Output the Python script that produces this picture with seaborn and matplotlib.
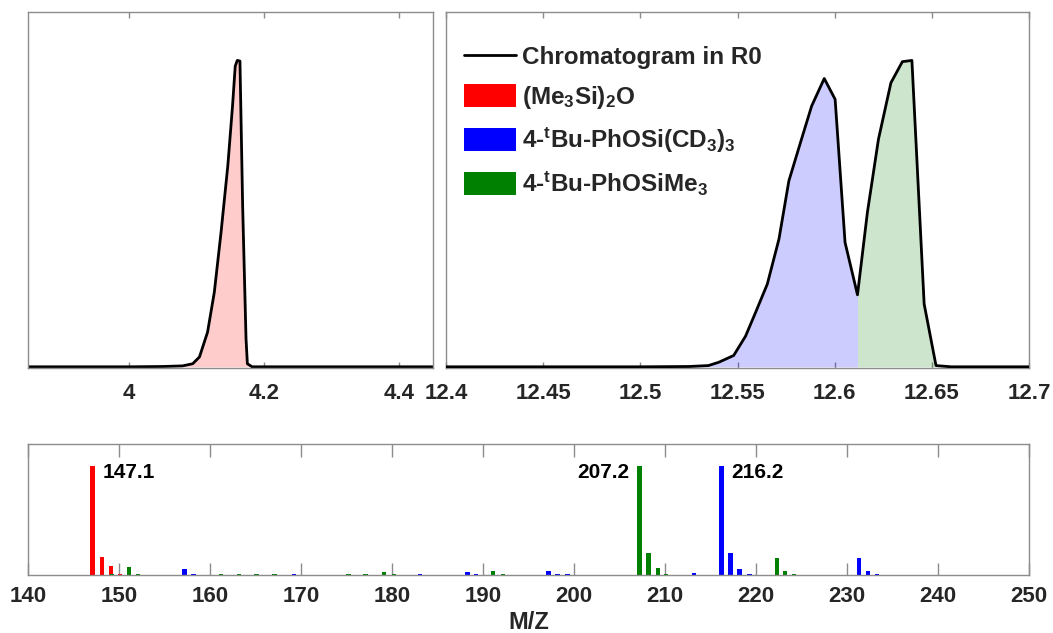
import numpy as np
import matplotlib
matplotlib.use("Agg")
import matplotlib.pyplot as plt
import seaborn as sns
from matplotlib.lines import Line2D
from matplotlib.patches import Patch

# ---- chromatogram in region R0 (retention time in min, normalised signal) ----
rt_early = [3.85, 4.00, 4.05, 4.079, 4.094, 4.104, 4.116, 4.126, 4.136, 4.146,
            4.153, 4.157, 4.160, 4.164, 4.168, 4.173, 4.175, 4.182, 4.20, 4.45]
sig_early = [0, 0, 0.001, 0.003, 0.010, 0.032, 0.113, 0.243, 0.439, 0.656,
             0.851, 0.981, 1.000, 0.998, 0.525, 0.091, 0.010, 0, 0, 0]

rt_late = [12.40, 12.50, 12.525, 12.535, 12.5404, 12.548, 12.5541, 12.5593, 12.5653,
           12.5713, 12.5764, 12.5816, 12.5881, 12.5946, 12.6002, 12.6053, 12.6117,
           12.6168, 12.6225, 12.6289, 12.6348, 12.6397, 12.646, 12.6521, 12.66, 12.70]
sig_late = [0, 0, 0.001, 0.004, 0.015, 0.037, 0.100, 0.178, 0.270,
            0.417, 0.607, 0.716, 0.851, 0.941, 0.873, 0.406, 0.235,
            0.504, 0.743, 0.927, 0.996, 1.000, 0.205, 0.004, 0, 0]
rt_split = 12.6117   # boundary between the two co-eluting compounds

# ---- mass spectra (m/z, relative intensity) ----
mz_hmdso = [147.1, 148.1, 149.1, 150.1]
int_hmdso = [1.0, 0.168, 0.083, 0.010]

mz_tms = [145.2, 149.2, 151.1, 152.1, 161.2, 163.2, 164.1, 165.1, 166.2, 167.1,
          168.1, 175.2, 177.1, 179.1, 180.2, 191.1, 192.2, 207.2, 208.2, 209.2,
          210.1, 222.3, 223.2, 224.2]
int_tms = [0.004, 0.010, 0.070, 0.012, 0.005, 0.010, 0.004, 0.005, 0.004, 0.005,
           0.004, 0.005, 0.012, 0.030, 0.006, 0.040, 0.010, 1.0, 0.200, 0.060,
           0.008, 0.160, 0.040, 0.010]

mz_d9 = [140.2, 141.2, 142.1, 153.3, 154.2, 155.2, 157.2, 158.2, 159.2, 169.2,
         171.3, 173.3, 176.2, 178.1, 181.1, 183.1, 184.1, 185.2, 188.3, 189.2,
         197.2, 198.2, 199.3, 200.2, 201.3, 202.4, 211.4, 213.2, 214.2, 216.2,
         217.2, 218.2, 219.3, 228.5, 231.3, 232.3, 233.3, 234.2]
int_d9 = [0.004, 0.004, 0.004, 0.004, 0.004, 0.004, 0.052, 0.008, 0.004, 0.008,
          0.004, 0.004, 0.004, 0.004, 0.004, 0.006, 0.004, 0.004, 0.027, 0.005,
          0.037, 0.008, 0.008, 0.004, 0.004, 0.004, 0.004, 0.020, 0.004, 1.0,
          0.200, 0.058, 0.010, 0.004, 0.156, 0.040, 0.010, 0.004]

names = ["(Me$_3$Si)$_2$O", "4-$^t$Bu-PhOSi(CD$_3$)$_3$", "4-$^t$Bu-PhOSiMe$_3$"]
colors = ["#ff0000", "#0000ff", "#008000"]

ticks_early = [4.0, 4.2, 4.4]
ticklabels_early = ["4", "4.2", "4.4"]
ticks_late = [12.4, 12.45, 12.5, 12.55, 12.6, 12.65, 12.7]
ticklabels_late = ["12.4", "12.45", "12.5", "12.55", "12.6", "12.65", "12.7"]
ticks_mz = list(range(140, 251, 10))

# ---- style ----
sns.set_style("white")
plt.rcParams["font.family"] = ["Liberation Sans", "DejaVu Sans"]
plt.rcParams["font.weight"] = "bold"
plt.rcParams["mathtext.fontset"] = "custom"
plt.rcParams["mathtext.rm"] = "Liberation Sans:bold"
plt.rcParams["mathtext.it"] = "Liberation Sans:bold"
plt.rcParams["mathtext.bf"] = "Liberation Sans:bold"
plt.rcParams["mathtext.default"] = "rm"

SPINE = "#8c8c8c"
TICKTXT = "#262626"

fig = plt.figure(figsize=(10.53, 6.33), dpi=100)
ax_e = fig.add_axes([0.0266, 0.4186, 0.3846, 0.5624])
ax_l = fig.add_axes([0.4236, 0.4186, 0.5537, 0.5624])
ax_m = fig.add_axes([0.0266, 0.0916, 0.9506, 0.2070])


def frame(ax, ticklen, pad, size):
    for s in ax.spines.values():
        s.set_color(SPINE)
        s.set_linewidth(1.0)
        s.set_visible(True)
    ax.set_yticks([])
    ax.tick_params(axis="x", direction="in", top=True, bottom=True,
                   length=ticklen, width=1, color=SPINE, pad=pad,
                   labelsize=size, labelcolor=TICKTXT)
    ax.set_xlabel("")
    ax.set_ylabel("")


# early peak
sns.lineplot(x=rt_early, y=sig_early, ax=ax_e, color="black", linewidth=2,
             estimator=None, sort=False)
ax_e.fill_between(rt_early, sig_early, color=colors[0], alpha=0.2, linewidth=0)
ax_e.set_xlim(3.85, 4.45)
ax_e.set_ylim(-0.004, 1.158)
ax_e.set_xticks(ticks_early)
ax_e.set_xticklabels(ticklabels_early)
frame(ax_e, 4, 11, 16)

# late co-eluting peaks
rt_l = np.array(rt_late)
sg_l = np.array(sig_late)
sns.lineplot(x=rt_late, y=sig_late, ax=ax_l, color="black", linewidth=2,
             estimator=None, sort=False, zorder=3)
m1 = rt_l <= rt_split
m2 = rt_l >= rt_split
ax_l.fill_between(rt_l[m1], sg_l[m1], color=colors[1], alpha=0.2, linewidth=0)
ax_l.fill_between(rt_l[m2], sg_l[m2], color=colors[2], alpha=0.2, linewidth=0)
ax_l.set_xlim(12.4, 12.7)
ax_l.set_ylim(-0.004, 1.158)
ax_l.set_xticks(ticks_late)
ax_l.set_xticklabels(ticklabels_late)
frame(ax_l, 4, 11, 16)

handles = [Line2D([0], [0], color="black", linewidth=2)]
handles += [Patch(facecolor=c, edgecolor="none") for c in colors]
labels = ["Chromatogram in R0"] + names
ax_l.legend(handles, labels, loc="upper left", bbox_to_anchor=(0.03, 0.908),
            frameon=False, fontsize=17.5, handlelength=2.15, handleheight=1.05,
            handletextpad=0.25, labelspacing=0.6, borderpad=0, borderaxespad=0)

# mass spectra
series = [(mz_hmdso, int_hmdso, colors[0]),
          (mz_d9, int_d9, colors[1]),
          (mz_tms, int_tms, colors[2])]
for mz, inten, col in series:
    gap = np.min(np.diff(np.sort(mz)))
    sns.barplot(x=mz, y=inten, ax=ax_m, native_scale=True, color=col,
                saturation=1, errorbar=None, width=0.48 / gap, linewidth=0)

label_side = {147.1: "right", 207.2: "left", 216.2: "right"}
for mz, inten, col in series:
    k = int(np.argmax(inten))
    side = label_side[mz[k]]
    dx = 7 if side == "right" else -7
    ax_m.annotate(f"{mz[k]:.1f}", xy=(mz[k], inten[k]), xytext=(dx, -5),
                  textcoords="offset points", ha="left" if side == "right" else "right",
                  va="center", fontsize=15, fontweight="bold", color="black")

ax_m.set_xlim(140, 250)
ax_m.set_ylim(0, 1.2)
ax_m.set_xticks(ticks_mz)
ax_m.set_xticklabels([str(t) for t in ticks_mz])
frame(ax_m, 9, 8, 16)
ax_m.set_xlabel("M/Z", fontsize=17, fontweight="bold", labelpad=3, color=TICKTXT)

fig.savefig("out.png", dpi=100)
